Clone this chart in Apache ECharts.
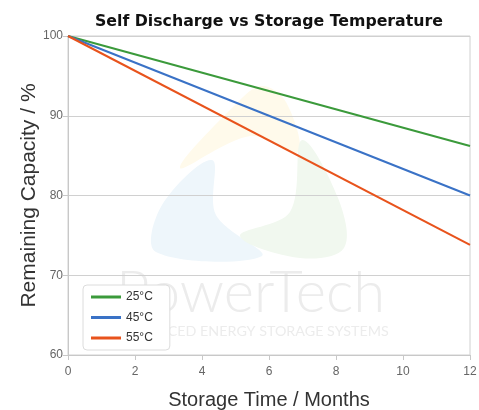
<!DOCTYPE html>
<html><head><meta charset="utf-8">
<script src="https://cdn.jsdelivr.net/npm/echarts@6/dist/echarts.min.js"></script>
<style>html,body{margin:0;padding:0;background:#fff}#c{width:479px;height:410px}</style>
</head><body><div id="c"></div>
<script>
const months = [0, 12];
const s25 = [100, 86.2];
const s45 = [100, 80.0];
const s55 = [100, 73.8];
const seriesNames = ['25°C', '45°C', '55°C'];
const colors = ['#3b9a3b', '#3a72c6', '#e8531c'];
const xTicks = [0, 2, 4, 6, 8, 10, 12];
const yTicks = [60, 70, 80, 90, 100];

const pairs = a => months.map((m, i) => [m, a[i]]);
const chart = echarts.init(document.getElementById('c'));
chart.setOption({
  animation: false,
  title: {
    text: 'Self Discharge vs Storage Temperature',
    left: 90, top: 9,
    textStyle: {fontFamily: 'DejaVu Sans', fontWeight: 'bold', fontSize: 15.75, color: '#111'}
  },
  graphic: [
    {type: 'polygon', z: -20, shape: {smooth: 0.35, points: [[180,168],[238,102],[262,86],[286,102],[298,152],[250,136]]}, style: {fill: '#fffaeb'}},
    {type: 'polygon', z: -20, shape: {smooth: 0.35, points: [[156,252],[162,205],[212,160],[216,215],[262,256]]}, style: {fill: '#eef6fb'}},
    {type: 'polygon', z: -20, shape: {smooth: 0.35, points: [[302,140],[338,198],[344,248],[300,258],[240,236],[290,212]]}, style: {fill: '#f1f8ef'}},
    {type: 'text', z: -10, left: 116, top: 264, style: {text: 'PowerTech', fontFamily: 'Lato', fontWeight: 300, fontSize: 58, fill: '#ececec'}},
    {type: 'text', z: -10, left: 118, top: 324, style: {text: 'ADVANCED ENERGY STORAGE SYSTEMS', fontFamily: 'Lato', fontSize: 14.3, fill: '#ececec'}}
  ],
  grid: {left: 68, right: 9, top: 36, bottom: 55, show: true, borderColor: '#d0d0d0', borderWidth: 1, outerBoundsMode: 'none', containLabel: false},
  legend: {
    left: 83, top: 285, orient: 'vertical', itemWidth: 30, itemHeight: 12, itemGap: 8.5,
    padding: [6, 17, 6, 8],
    borderColor: '#dcdcdc', borderWidth: 1, borderRadius: 4, backgroundColor: '#fff',
    textStyle: {fontFamily: 'Liberation Sans', fontSize: 12, color: '#333'},
    data: seriesNames.map(n => ({name: n, icon: 'path://M0,0 L30,0 L30,3 L0,3 Z'}))
  },
  xAxis: {
    type: 'value', min: 0, max: 12, interval: 2,
    name: 'Storage Time / Months', nameLocation: 'middle', nameGap: 35, nameMoveOverlap: false,
    nameTextStyle: {fontFamily: 'Liberation Sans', fontSize: 20, color: '#333'},
    axisLine: {lineStyle: {color: '#c8c8c8'}},
    axisTick: {show: true, length: 5, lineStyle: {color: '#c8c8c8'}},
    axisLabel: {fontFamily: 'Liberation Sans', fontSize: 12, color: '#666', margin: 11},
    splitLine: {show: false}
  },
  yAxis: {
    type: 'value', min: 60, max: 100, interval: 10,
    name: 'Remaining Capacity / %', nameLocation: 'middle', nameGap: 28, nameMoveOverlap: false,
    nameTextStyle: {fontFamily: 'Liberation Sans', fontSize: 21, color: '#333'},
    axisLine: {show: true, lineStyle: {color: '#c8c8c8'}},
    axisTick: {show: true, length: 5, lineStyle: {color: '#c8c8c8'}},
    axisLabel: {fontFamily: 'Liberation Sans', fontSize: 12, color: '#666', margin: 5},
    splitLine: {show: true, lineStyle: {color: '#d0d0d0'}}
  },
  series: [s25, s45, s55].map((d, i) => ({
    name: seriesNames[i], type: 'line', data: pairs(d), showSymbol: false, symbol: 'none',
    lineStyle: {color: colors[i], width: 2}, itemStyle: {color: colors[i]}
  }))
});
</script></body></html>
